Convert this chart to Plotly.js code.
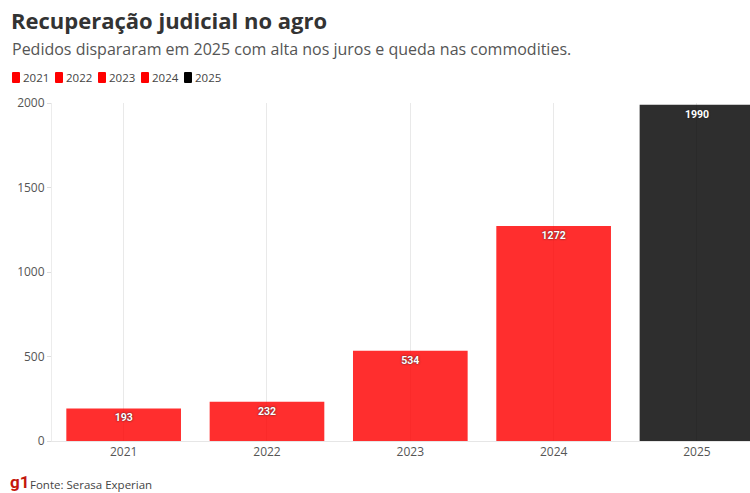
<!DOCTYPE html>
<html>
<head>
<meta charset="utf-8">
<script src="https://cdn.plot.ly/plotly-3.0.1.min.js"></script>
<style>html,body{margin:0;padding:0;background:#fff;}#chart{width:750px;height:493px;}</style>
</head>
<body>
<div id="chart"></div>
<script>
const years = ["2021", "2022", "2023", "2024", "2025"];
const pedidos = [193, 232, 534, 1272, 1990];
const barColors = ["#ff0000", "#ff0000", "#ff0000", "#ff0000", "#000000"];
const yTicks = [0, 500, 1000, 1500, 2000];

const W = 750, H = 493, ML = 52, MR = 0, MT = 103, MB = 52;
const PW = W - ML - MR, PH = H - MT - MB;
const px = p => (p - ML) / PW;
const py = p => (H - MB - p) / PH;
const FONT = "'Open Sans', Roboto, sans-serif";
const FONT2 = "Roboto, 'Open Sans', sans-serif";

const traces = years.map((y, i) => ({
  type: "bar",
  name: y,
  x: [y],
  y: [pedidos[i]],
  width: 0.8,
  marker: { color: barColors[i], opacity: 0.82, line: { width: 0 } },
  text: [String(pedidos[i])],
  textposition: "inside",
  insidetextanchor: "end",
  textangle: 0,
  textfont: { family: FONT2, size: 10.5, color: "#ffffff", weight: 700, shadow: "0px 0px 2px #222" },
  cliponaxis: true,
  showlegend: false,
  hoverinfo: "x+y"
}));

// custom compact legend
const shapes = [];
const annotations = [];
const legendStart = 12, legendStep = 43, legendY = 77.5;
years.forEach((y, i) => {
  const x0 = legendStart + i * legendStep;
  shapes.push({
    type: "path", xref: "paper", yref: "paper",
    xsizemode: "pixel", ysizemode: "pixel",
    xanchor: px(x0), yanchor: py(legendY),
    path: "M 1,-5.5 L 7,-5.5 Q 8,-5.5 8,-4.5 L 8,4.5 Q 8,5.5 7,5.5 L 1,5.5 Q 0,5.5 0,4.5 L 0,-4.5 Q 0,-5.5 1,-5.5 Z",
    fillcolor: barColors[i], line: { width: 0 }
  });
  annotations.push({
    xref: "paper", yref: "paper", x: px(x0 + 9), y: py(legendY),
    xanchor: "left", yanchor: "middle", showarrow: false,
    text: y, font: { family: FONT, size: 11.5, color: "#444" }
  });
});

annotations.push({
  xref: "paper", yref: "paper", x: px(10), y: py(49),
  xanchor: "left", yanchor: "middle", showarrow: false,
  text: "Pedidos dispararam em 2025 com alta nos juros e queda nas commodities.",
  font: { family: FONT, size: 16, color: "#555" }
});
annotations.push({
  xref: "paper", yref: "paper", x: px(8), y: py(482),
  xanchor: "left", yanchor: "middle", showarrow: false,
  text: "<b>g1</b>", font: { family: FONT2, size: 17, color: "#c4170c" }
});
annotations.push({
  xref: "paper", yref: "paper", x: px(28), y: py(484),
  xanchor: "left", yanchor: "middle", showarrow: false,
  text: "Fonte: Serasa Experian", font: { family: FONT, size: 11.5, color: "#444" }
});

const layout = {
  width: W, height: H,
  margin: { l: ML, r: MR, t: MT, b: MB, pad: 0 },
  paper_bgcolor: "#ffffff", plot_bgcolor: "#ffffff",
  barmode: "overlay",
  showlegend: false,
  title: {
    text: "<b>Recuperação judicial no agro</b>",
    font: { family: FONT, size: 22, color: "#333" },
    xref: "container", yref: "container",
    x: 11 / W, xanchor: "left", y: 1 - 21 / H, yanchor: "middle"
  },
  xaxis: {
    type: "category",
    categoryorder: "array", categoryarray: years,
    range: [-0.5, 4.37],
    showgrid: true, gridcolor: "#e9e9e9", gridwidth: 1,
    showline: true, linecolor: "#e6e6e6", linewidth: 1,
    ticks: "", tickfont: { family: FONT, size: 12, color: "#555" },
    fixedrange: true
  },
  yaxis: {
    range: [0, 2000],
    tickvals: yTicks, ticktext: yTicks.map(String),
    showgrid: false, zeroline: false,
    showline: true, linecolor: "#ececec", linewidth: 1,
    ticks: "outside", ticklen: 4, tickcolor: "#dddddd", tickwidth: 1,
    tickfont: { family: FONT, size: 12, color: "#555" },
    fixedrange: true
  },
  shapes: shapes,
  annotations: annotations
};

Plotly.newPlot("chart", traces, layout, { displayModeBar: false, staticPlot: true });
</script>
</body>
</html>
